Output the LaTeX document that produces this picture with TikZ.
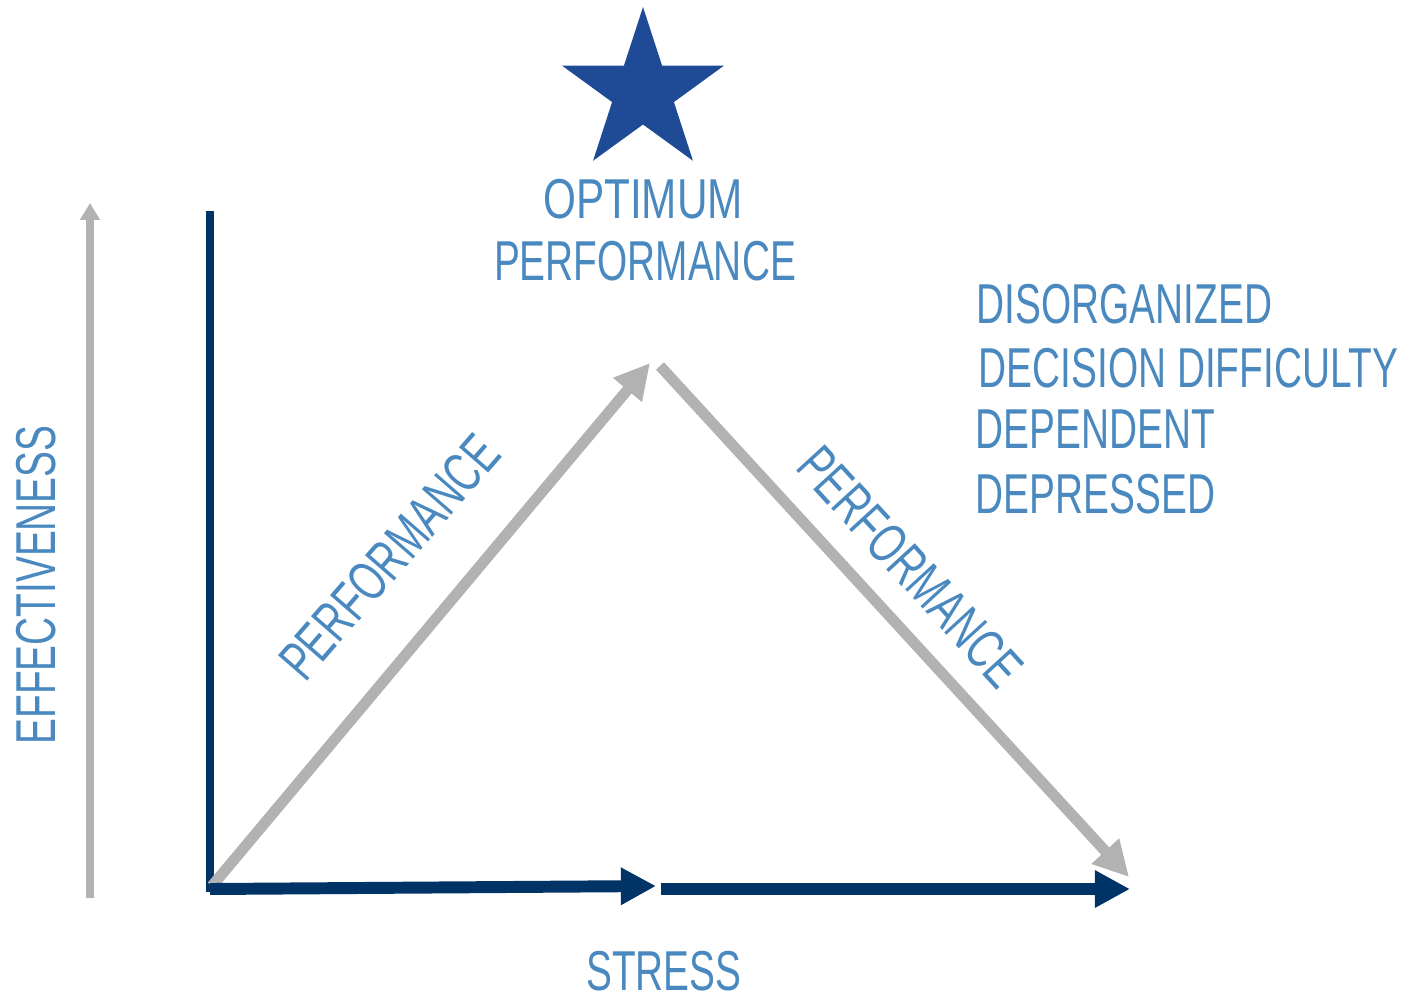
\documentclass[tikz,border=0pt]{standalone}
\usepackage{fontspec}
\setmainfont{Liberation Sans}[FakeStretch=0.69]
\usetikzlibrary{arrows.meta}
\definecolor{navy}{HTML}{003366}
\definecolor{arrowgray}{HTML}{B2B2B2}
\definecolor{labelblue}{HTML}{4A89C0}
\definecolor{starblue}{HTML}{1E4A96}
\begin{document}
\begin{tikzpicture}[x=0.1mm,y=-0.1mm,
  txt/.style={text=labelblue, inner sep=0pt, font=\fontsize{16}{19}\selectfont},
  axisline/.style={draw=navy, line width=2.3pt},
  navyarrow/.style={draw=navy, line width=3.4pt, -{Triangle[length=10pt,width=10pt]}},
  grayarrow/.style={draw=arrowgray, line width=3.1pt, -{Triangle[length=10pt,width=10pt]}},
  thinarrow/.style={draw=arrowgray, line width=2pt, -{Triangle[length=4.8pt,width=5.4pt]}},
  ]
\useasboundingbox (0,0) rectangle (1417,998);

% anchor points of the axes and the performance curve
\coordinate (effbot) at (90,898);
\coordinate (efftop) at (90,203);
\coordinate (ytop)   at (210,211);
\coordinate (ybot)   at (210,892);
\coordinate (origin) at (210,889);
\coordinate (mid)    at (656,886);
\coordinate (mid2)   at (661,889);
\coordinate (xend)   at (1130,889);
\coordinate (rise)   at (212,886);
\coordinate (peak)   at (650,363);
\coordinate (fall)   at (660,366);
\coordinate (low)    at (1129,877);

% effectiveness direction
\draw[thinarrow] (effbot) -- (efftop);

% vertical axis
\draw[axisline] (ytop) -- (ybot);

% rising and falling performance
\draw[grayarrow] (rise) -- (peak);
\draw[grayarrow] (fall) -- (low);

% stress axis in two pieces
\draw[navyarrow] (origin) -- (mid);
\draw[navyarrow] (mid2) -- (xend);

% star at the peak
\fill[starblue, shift={(643,92)}]
  (270:85) -- (306:32.5) -- (342:85) -- (18:32.5) -- (54:85) --
  (90:32.5) -- (126:85) -- (162:32.5) -- (198:85) -- (234:32.5) -- cycle;

% labels
\node[txt, anchor=base, xscale=1.09] (opt1) at (643,218) {OPTIMUM};
\node[txt, anchor=base] (opt2) at (645,280) {PERFORMANCE};
\node[txt, anchor=base] (stress) at (664,990) {STRESS};
\node[txt, anchor=base, rotate=90] (eff) at (55,585) {EFFECTIVENESS};
\node[txt, anchor=base, rotate=49] (perfup) at (404,570) {PERFORMANCE};
\node[txt, anchor=base, rotate=-47.5] (perfdown) at (896,580) {PERFORMANCE};

\node[txt, anchor=base west] (s1) at (976,323) {DISORGANIZED};
\node[txt, anchor=base west] (s2) at (978,387) {DECISION DIFFICULTY};
\node[txt, anchor=base west] (s3) at (975,448) {DEPENDENT};
\node[txt, anchor=base west] (s4) at (975,513) {DEPRESSED};
\end{tikzpicture}
\end{document}
